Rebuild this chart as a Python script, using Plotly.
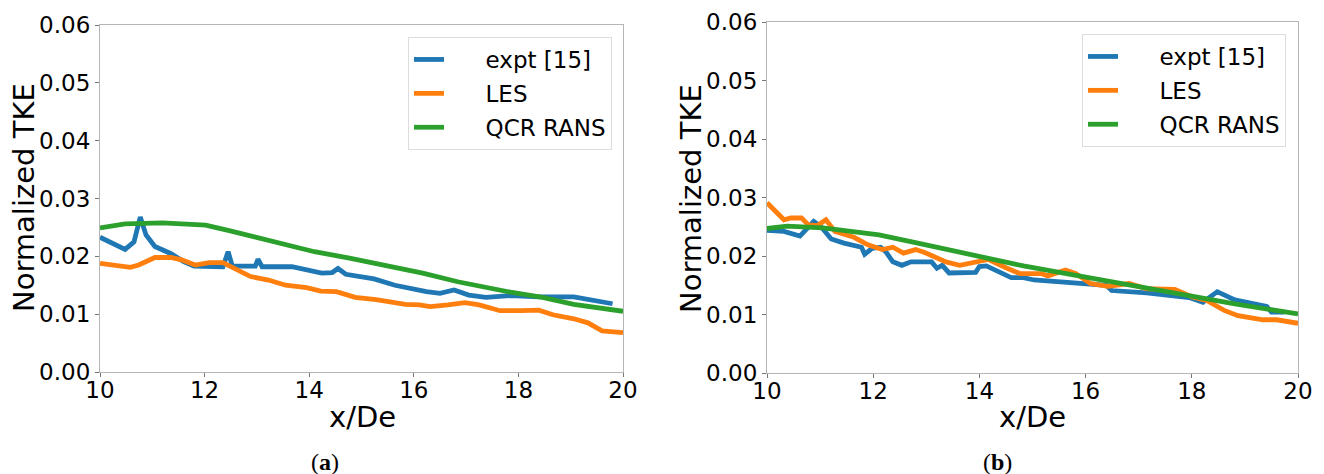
import plotly.graph_objects as go

# ---------------- data: panel (a) ----------------
a_expt_x = [10.0, 10.48, 10.65, 10.77, 10.88, 11.05, 11.35, 11.6, 11.8, 12.35, 12.45, 12.53, 12.97, 13.02, 13.1,
            13.67, 14.24, 14.44, 14.55, 14.7, 15.24, 15.64, 16.24, 16.5, 16.77, 17.05, 17.38, 17.85, 18.39, 19.06, 19.8]
a_expt_y = [0.0233, 0.0212, 0.0225, 0.0268, 0.0237, 0.0217, 0.0205, 0.0191, 0.0183, 0.0182, 0.0208, 0.0183, 0.0183,
            0.0195, 0.0182, 0.0182, 0.0171, 0.0172, 0.0179, 0.0169, 0.0161, 0.0150, 0.0139, 0.0136, 0.0142, 0.0133,
            0.0129, 0.0132, 0.0130, 0.0130, 0.0118]

a_les_x = [10.0, 10.2, 10.58, 10.74, 11.05, 11.35, 11.56, 11.82, 12.09, 12.35, 12.62, 12.88, 13.22, 13.55, 13.95,
           14.22, 14.52, 14.88, 15.28, 15.84, 16.11, 16.31, 16.65, 16.98, 17.25, 17.65, 18.06, 18.39, 18.66, 19.06,
           19.33, 19.6, 20.0]
a_les_y = [0.0188, 0.0186, 0.0181, 0.0185, 0.0198, 0.0198, 0.0194, 0.0185, 0.0189, 0.0189, 0.0177, 0.0165, 0.0159,
           0.0150, 0.0146, 0.0140, 0.0139, 0.0129, 0.0125, 0.0117, 0.0116, 0.0113, 0.0116, 0.0120, 0.0116, 0.0106,
           0.0106, 0.0107, 0.0099, 0.0092, 0.0085, 0.0071, 0.0068]

a_rans_x = [10.0, 10.48, 11.19, 12.02, 12.49, 12.97, 13.57, 14.1, 14.77, 15.44, 16.17, 16.84, 17.38, 17.85, 18.46,
            19.06, 20.0]
a_rans_y = [0.0249, 0.0256, 0.0258, 0.0254, 0.0244, 0.0233, 0.0220, 0.0208, 0.0197, 0.0185, 0.0171, 0.0156, 0.0146,
            0.0138, 0.0129, 0.0117, 0.0105]

# ---------------- data: panel (b) ----------------
b_expt_x = [10.0, 10.32, 10.62, 10.88, 11.01, 11.21, 11.45, 11.78, 11.84, 11.98, 12.14, 12.24, 12.37, 12.54, 12.71,
            13.1, 13.2, 13.3, 13.43, 13.93, 14.0, 14.13, 14.6, 14.83, 15.03, 15.82, 16.39, 16.49, 17.15, 17.95, 18.21,
            18.48, 18.81, 19.41, 19.5, 19.74]
b_expt_y = [0.0244, 0.0242, 0.0234, 0.0259, 0.0251, 0.0229, 0.0222, 0.0215, 0.0203, 0.0213, 0.0215, 0.0207, 0.0190,
            0.0184, 0.0190, 0.0190, 0.0179, 0.0184, 0.0171, 0.0172, 0.0182, 0.0183, 0.0163, 0.0163, 0.0159, 0.0154,
            0.0150, 0.0141, 0.0137, 0.0129, 0.0121, 0.0139, 0.0125, 0.0114, 0.0104, 0.0104]

b_les_x = [10.0, 10.15, 10.32, 10.45, 10.65, 10.78, 10.95, 11.11, 11.28, 11.64, 11.9, 12.17, 12.37, 12.57, 12.8,
           12.97, 13.2, 13.37, 13.63, 13.9, 14.17, 14.5, 14.76, 15.16, 15.29, 15.62, 15.82, 16.09, 16.42, 16.82,
           17.15, 17.68, 18.01, 18.28, 18.61, 18.87, 19.34, 19.6, 20.0]
b_les_y = [0.0291, 0.0278, 0.0262, 0.0265, 0.0265, 0.0253, 0.0252, 0.0262, 0.0242, 0.0232, 0.0219, 0.0211, 0.0215,
           0.0205, 0.0211, 0.0206, 0.0196, 0.0190, 0.0184, 0.0188, 0.0194, 0.0180, 0.0170, 0.0170, 0.0166, 0.0176,
           0.0170, 0.0153, 0.0148, 0.0153, 0.0144, 0.0143, 0.0130, 0.0124, 0.0107, 0.0098, 0.0091, 0.0091, 0.0085]

b_rans_x = [10.0, 10.38, 11.05, 12.11, 12.84, 13.83, 14.83, 15.82, 16.82, 17.81, 18.81, 20.0]
b_rans_y = [0.0247, 0.0251, 0.0248, 0.0236, 0.0222, 0.0202, 0.0183, 0.0167, 0.0150, 0.0133, 0.0118, 0.0101]

series_names = ["expt [15]", "LES", "QCR RANS"]
colors = ["#1f77b4", "#ff7f0e", "#2ca02c"]
x_ticks = [10, 12, 14, 16, 18, 20]
y_ticks = [0.00, 0.01, 0.02, 0.03, 0.04, 0.05, 0.06]
x_title = "x/De"
y_title = "Normalized TKE"
panel_labels = ["(<b>a</b>)", "(<b>b</b>)"]

W, H = 1324, 474
FONT = "DejaVu Sans, Liberation Sans, sans-serif"
PAD = "\u00a0" * 5

fig = go.Figure()

panels = [
    ("x", "y", "legend", [(a_expt_x, a_expt_y), (a_les_x, a_les_y), (a_rans_x, a_rans_y)]),
    ("x2", "y2", "legend2", [(b_expt_x, b_expt_y), (b_les_x, b_les_y), (b_rans_x, b_rans_y)]),
]
for xa, ya, lg, data in panels:
    for i, (xs, ys) in enumerate(data):
        fig.add_trace(go.Scatter(
            x=xs, y=ys, mode="lines", name=PAD + series_names[i],
            line=dict(color=colors[i], width=4.8),
            xaxis=xa, yaxis=ya, legend=lg, legendgroup=lg + str(i),
        ))

axis_common = dict(
    showgrid=False, zeroline=False, showline=True, mirror=True, automargin=False,
    linecolor="#b5b5b5", linewidth=1.2,
    ticks="outside", ticklen=4, tickcolor="#777777", tickwidth=1,
    tickfont=dict(family=FONT, size=23, color="black"),
)

legend_common = dict(
    xanchor="right", yanchor="top",
    bgcolor="white", bordercolor="#dddddd", borderwidth=1,
    font=dict(family=FONT, size=23, color="black"), tracegroupgap=1,
)

fig.update_layout(
    width=W, height=H,
    margin=dict(l=0, r=0, t=0, b=0, autoexpand=False),
    paper_bgcolor="white", plot_bgcolor="white",
    showlegend=True,
    xaxis=dict(domain=[100 / W, 623 / W], range=[10, 20], tickvals=x_ticks, anchor="y",
               ticklabelstandoff=-7, **axis_common),
    yaxis=dict(domain=[1 - 372 / H, 1 - 25 / H], range=[0, 0.06], tickvals=y_ticks, tickformat=".2f",
               anchor="x", **axis_common),
    xaxis2=dict(domain=[767 / W, 1298 / W], range=[10, 20], tickvals=x_ticks, anchor="y2",
                ticklabelstandoff=-7, **axis_common),
    yaxis2=dict(domain=[1 - 373 / H, 1 - 22 / H], range=[0, 0.06], tickvals=y_ticks, tickformat=".2f",
                anchor="x2", **axis_common),
    legend=dict(x=612 / W, y=1 - 37 / H, **legend_common),
    legend2=dict(x=1286 / W, y=1 - 34 / H, **legend_common),
)

annos = [
    dict(text=x_title, x=362 / W, y=1 - 417 / H, font=dict(family=FONT, size=29, color="black")),
    dict(text=x_title, x=1032 / W, y=1 - 417 / H, font=dict(family=FONT, size=29, color="black")),
    dict(text=y_title, x=24 / W, y=1 - 198 / H, textangle=-90, font=dict(family=FONT, size=29, color="black")),
    dict(text=y_title, x=691 / W, y=1 - 198 / H, textangle=-90, font=dict(family=FONT, size=29, color="black")),
    dict(text=panel_labels[0], x=325 / W, y=1 - 462 / H,
         font=dict(family="Liberation Serif, serif", size=24, color="black")),
    dict(text=panel_labels[1], x=997 / W, y=1 - 462 / H,
         font=dict(family="Liberation Serif, serif", size=24, color="black")),
]
for a in annos:
    fig.add_annotation(xref="paper", yref="paper", showarrow=False, xanchor="center", yanchor="middle", **a)

fig.write_html("out.html", config={"displayModeBar": False},
               post_script="document.body.style.margin='0';document.body.style.overflow='hidden';")
